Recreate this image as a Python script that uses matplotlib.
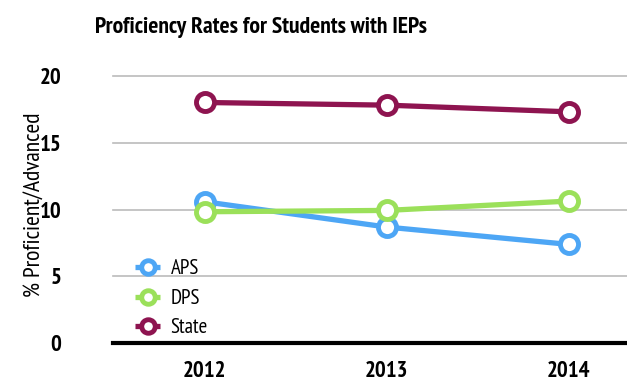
import matplotlib
matplotlib.use("Agg")
import matplotlib.pyplot as plt

years = ["2012", "2013", "2014"]
aps = [10.6, 8.7, 7.4]
dps = [9.85, 9.95, 10.65]
state = [18.05, 17.85, 17.35]
series_names = ["APS", "DPS", "State"]
colors = ["#4DA6F5", "#9BE05A", "#8E1450"]

plt.rcParams['font.family'] = ['PT Sans Narrow', 'DejaVu Sans']

fig = plt.figure(figsize=(6.27, 3.89), dpi=100)
ax = fig.add_axes([113/627, 46/389, 1 - 113/627, (343 - 76.5)/389])

x = list(range(len(years)))
for name, vals, c in zip(series_names, [aps, dps, state], colors):
    ax.plot(x, vals, color=c, lw=3.8, marker='o', ms=13, mfc='white', mec=c, mew=3.5,
            label=name, solid_capstyle='butt', zorder=3)

ax.set_ylim(0, 20)
ax.set_xlim(-0.505, 2.32)
ax.set_yticks([0, 5, 10, 15, 20])
ax.set_xticks(x)
ax.set_xticklabels(years)
for yv in [5, 10, 15, 20]:
    ax.axhline(yv, color='#BBBBBB', lw=1.2, zorder=1, clip_on=False)
for s in ['top', 'right', 'left']:
    ax.spines[s].set_visible(False)
ax.spines['bottom'].set_linewidth(3)
ax.spines['bottom'].set_color('black')
ax.tick_params(axis='both', length=0, labelsize=16.5)
ax.tick_params(axis='y', pad=37)
ax.tick_params(axis='x', pad=13)
for lab in ax.get_xticklabels() + ax.get_yticklabels():
    lab.set_fontweight('bold')

ax.set_ylabel("% Proficient/Advanced", fontsize=17)
ax.yaxis.set_label_coords(-0.132, 0.52)

fig.text(261/627, 1 - 28/389, "Proficiency Rates for Students with IEPs", ha='center', va='center',
         fontsize=17, fontweight='bold')

leg = ax.legend(loc='lower left', bbox_to_anchor=(0.007, -0.049), frameon=False, fontsize=15,
                handlelength=1.2, handletextpad=0.5, labelspacing=0.5, markerscale=0.75)

fig.savefig("out.png", dpi=100)
